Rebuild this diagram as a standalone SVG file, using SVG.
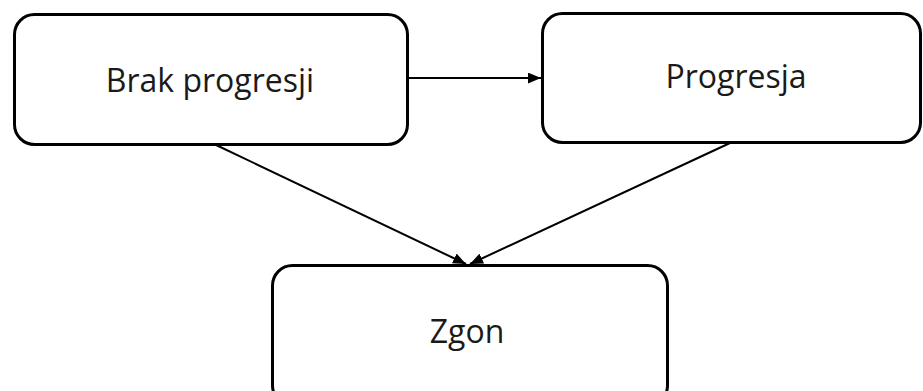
<svg xmlns="http://www.w3.org/2000/svg" width="923" height="391" viewBox="0 0 923 391">
  <style>
    .box { fill: #ffffff; stroke: #000000; stroke-width: 3; }
    .label { font-family: "Open Sans", "Noto Sans", "Liberation Sans", sans-serif; font-size: 32px; fill: #1a1a1a; text-anchor: middle; }
    .edge { fill: none; stroke: #000000; stroke-width: 2; }
  </style>
  <defs>
    <marker id="arrow" viewBox="0 0 12 10" refX="12" refY="5" markerWidth="13" markerHeight="11" markerUnits="userSpaceOnUse" orient="auto">
      <path d="M0,0 L12,5 L0,10 Z" fill="#000000"/>
    </marker>
  </defs>
  <rect width="923" height="391" fill="#ffffff"/>

  <!-- transitions between states -->
  <g id="connectors">
    <line class="edge" x1="408" y1="78" x2="541" y2="78" marker-end="url(#arrow)"/>
    <line class="edge" x1="214" y1="144" x2="466" y2="264" marker-end="url(#arrow)"/>
    <line class="edge" x1="730" y1="143" x2="470" y2="264" marker-end="url(#arrow)"/>
  </g>

  <g id="node-brak-progresji">
    <rect class="box" x="14.5" y="14.5" width="393" height="130" rx="20"/>
    <text class="label" x="210" y="92">Brak progresji</text>
  </g>

  <g id="node-progresja">
    <rect class="box" x="542.5" y="13.5" width="378" height="129" rx="20"/>
    <text class="label" x="736" y="88">Progresja</text>
  </g>

  <g id="node-zgon">
    <rect class="box" x="272.5" y="265.5" width="395" height="140" rx="20"/>
    <text class="label" x="467" y="343">Zgon</text>
  </g>
</svg>
